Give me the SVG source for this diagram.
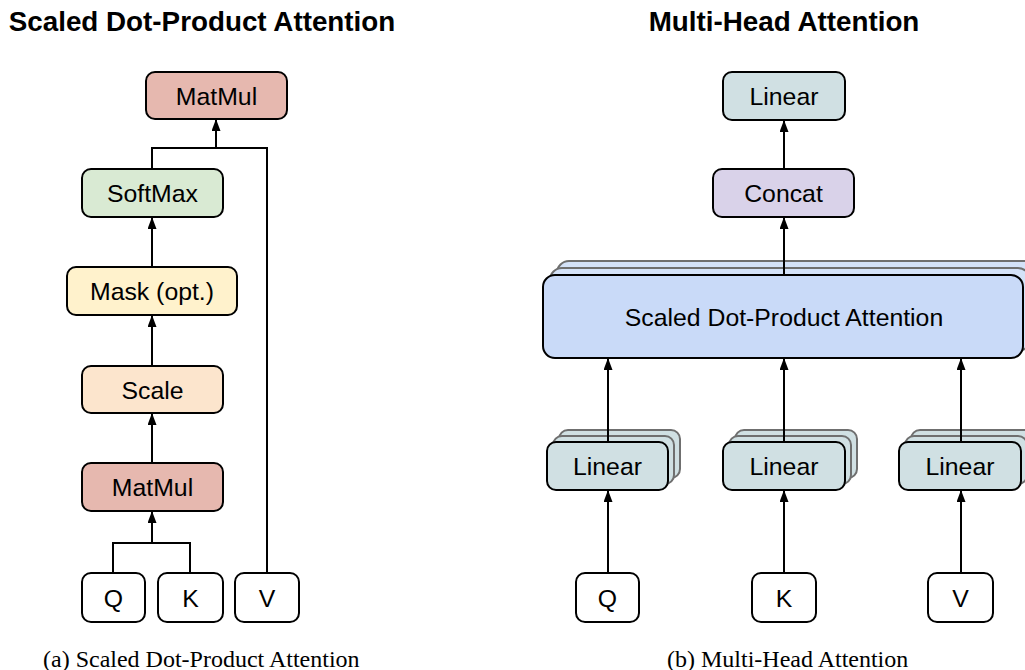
<svg xmlns="http://www.w3.org/2000/svg" width="1025" height="670" viewBox="0 0 1025 670">
  <style>
    .box { stroke: #000; stroke-width: 2; }
    .back { stroke: #6f6f6f; stroke-width: 2; }
    .lbl { font-family: "Liberation Sans", Arial, sans-serif; font-size: 24.8px; fill: #000; text-anchor: middle; }
    .title { font-family: "Liberation Sans", Arial, sans-serif; font-size: 27.8px; font-weight: bold; fill: #000; text-anchor: middle; }
    .cap { font-family: "Liberation Serif", "Times New Roman", serif; font-size: 24px; fill: #000; }
    .edge { fill: none; stroke: #000; stroke-width: 2; }
    .arrow { fill: none; stroke: #000; stroke-width: 2; marker-end: url(#head); }
    .matmul { fill: #e6b8af; }
    .softmax { fill: #d9ead3; }
    .mask { fill: #fff2cc; }
    .scale { fill: #fce5cd; }
    .linear { fill: #d0e0e3; }
    .concat { fill: #d9d2e9; }
    .sdpa { fill: #c9daf8; }
    .sdpa-back { fill: #d4e2f8; }
    .plain { fill: #fff; }
  </style>
  <defs>
    <marker id="head" viewBox="0 0 12 9" refX="11" refY="4.5" markerWidth="12" markerHeight="9" markerUnits="userSpaceOnUse" orient="auto">
      <path d="M0,0 L12,4.5 L0,9 Z" fill="#000"/>
    </marker>
  </defs>

  <rect width="1025" height="670" fill="#fff"/>

  <!-- headings -->
  <text class="title" x="202" y="31">Scaled Dot-Product Attention</text>
  <text class="title" x="784" y="31">Multi-Head Attention</text>

  <!-- ===== Scaled Dot-Product Attention ===== -->
  <g id="sdpa-matmul-top">
    <rect class="box matmul" x="146" y="72" width="141" height="47" rx="9"/>
    <text class="lbl" x="216.5" y="104.5">MatMul</text>
  </g>
  <g id="sdpa-softmax">
    <rect class="box softmax" x="82" y="169" width="141" height="48" rx="9"/>
    <text class="lbl" x="152.5" y="202">SoftMax</text>
  </g>
  <g id="sdpa-mask">
    <rect class="box mask" x="67" y="267" width="170" height="48" rx="9"/>
    <text class="lbl" x="152" y="300">Mask (opt.)</text>
  </g>
  <g id="sdpa-scale">
    <rect class="box scale" x="82" y="366" width="141" height="47" rx="9"/>
    <text class="lbl" x="152.5" y="398.5">Scale</text>
  </g>
  <g id="sdpa-matmul-bottom">
    <rect class="box matmul" x="82" y="463" width="141" height="48" rx="9"/>
    <text class="lbl" x="152.5" y="496">MatMul</text>
  </g>
  <g id="sdpa-q">
    <rect class="box plain" x="82" y="573" width="63" height="49" rx="9"/>
    <text class="lbl" x="113.5" y="606.5">Q</text>
  </g>
  <g id="sdpa-k">
    <rect class="box plain" x="158" y="573" width="65" height="49" rx="9"/>
    <text class="lbl" x="190.5" y="606.5">K</text>
  </g>
  <g id="sdpa-v">
    <rect class="box plain" x="235" y="573" width="64" height="49" rx="9"/>
    <text class="lbl" x="267" y="606.5">V</text>
  </g>

  <g id="sdpa-connectors">
    <polyline class="edge" points="113,573 113,543 190,543 190,573"/>
    <line class="arrow" x1="152" y1="543" x2="152" y2="512"/>
    <line class="arrow" x1="152" y1="463" x2="152" y2="414"/>
    <line class="arrow" x1="152" y1="366" x2="152" y2="316"/>
    <line class="arrow" x1="152" y1="267" x2="152" y2="218"/>
    <polyline class="edge" points="152,169 152,148 267,148 267,573"/>
    <line class="arrow" x1="216" y1="148" x2="216" y2="120"/>
  </g>

  <!-- ===== Multi-Head Attention ===== -->
  <g id="mha-linear-out">
    <rect class="box linear" x="723" y="72" width="122" height="48" rx="9"/>
    <text class="lbl" x="784" y="105">Linear</text>
  </g>
  <g id="mha-concat">
    <rect class="box concat" x="713" y="169" width="141" height="48" rx="9"/>
    <text class="lbl" x="783.5" y="202">Concat</text>
  </g>
  <g id="mha-attention">
    <rect class="back sdpa-back" x="557" y="261" width="480" height="83" rx="12"/>
    <rect class="back sdpa-back" x="550" y="268" width="480" height="83" rx="12"/>
    <rect class="box sdpa" x="543" y="275" width="480" height="83" rx="12"/>
    <text class="lbl" x="784" y="325.5">Scaled Dot-Product Attention</text>
  </g>
  <g id="mha-linear-q">
    <rect class="back linear" x="559" y="430" width="121" height="48" rx="9"/>
    <rect class="back linear" x="553" y="436" width="121" height="48" rx="9"/>
    <rect class="box linear" x="547" y="442" width="121" height="48" rx="9"/>
    <text class="lbl" x="607.5" y="475">Linear</text>
  </g>
  <g id="mha-linear-k">
    <rect class="back linear" x="735" y="430" width="122" height="48" rx="9"/>
    <rect class="back linear" x="729" y="436" width="122" height="48" rx="9"/>
    <rect class="box linear" x="723" y="442" width="122" height="48" rx="9"/>
    <text class="lbl" x="784" y="475">Linear</text>
  </g>
  <g id="mha-linear-v">
    <rect class="back linear" x="911" y="430" width="122" height="48" rx="9"/>
    <rect class="back linear" x="905" y="436" width="122" height="48" rx="9"/>
    <rect class="box linear" x="899" y="442" width="122" height="48" rx="9"/>
    <text class="lbl" x="960" y="475">Linear</text>
  </g>
  <g id="mha-q">
    <rect class="box plain" x="576" y="573" width="63" height="49" rx="9"/>
    <text class="lbl" x="607.5" y="606.5">Q</text>
  </g>
  <g id="mha-k">
    <rect class="box plain" x="752" y="573" width="64" height="49" rx="9"/>
    <text class="lbl" x="784" y="606.5">K</text>
  </g>
  <g id="mha-v">
    <rect class="box plain" x="928" y="573" width="65" height="49" rx="9"/>
    <text class="lbl" x="960.5" y="606.5">V</text>
  </g>

  <g id="mha-connectors">
    <line class="arrow" x1="608" y1="573" x2="608" y2="491"/>
    <line class="arrow" x1="784" y1="573" x2="784" y2="491"/>
    <line class="arrow" x1="961" y1="573" x2="961" y2="491"/>
    <line class="arrow" x1="608" y1="442" x2="608" y2="359"/>
    <line class="arrow" x1="784" y1="442" x2="784" y2="359"/>
    <line class="arrow" x1="961" y1="442" x2="961" y2="359"/>
    <line class="arrow" x1="784" y1="275" x2="784" y2="218"/>
    <line class="arrow" x1="784" y1="169" x2="784" y2="121"/>
  </g>

  <!-- captions -->
  <text class="cap" x="43" y="667">(a) Scaled Dot-Product Attention</text>
  <text class="cap" x="667" y="667">(b) Multi-Head Attention</text>
</svg>
